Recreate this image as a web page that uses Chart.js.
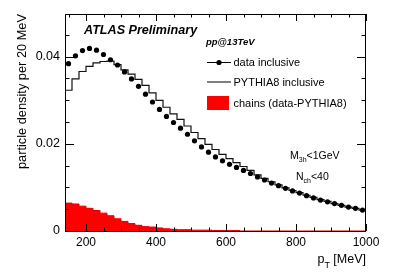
<!DOCTYPE html>
<html>
<head>
<meta charset="utf-8">
<script src="https://cdn.jsdelivr.net/npm/chart.js@4/dist/chart.umd.min.js"></script>
<style>
  html, body { margin: 0; padding: 0; background: #fff; }
  canvas { display: block; }
</style>
</head>
<body>
<canvas id="chart" width="407" height="276"></canvas>
<script>
// pT bin centres [MeV], 20 MeV bins
const ptBins = [150, 170, 190, 210, 230, 250, 270, 290, 310, 330, 350, 370, 390, 410, 430,
  450, 470, 490, 510, 530, 550, 570, 590, 610, 630, 650, 670, 690, 710, 730, 750, 770, 790,
  810, 830, 850, 870, 890, 910, 930, 950, 970, 990];

const dataIncl = [0.0384, 0.0402, 0.0414, 0.0419, 0.0415, 0.0405, 0.0393, 0.0381, 0.0365,
  0.0349, 0.0332, 0.0314, 0.0296, 0.0279, 0.0263, 0.0249, 0.0236, 0.0222, 0.0207, 0.0193,
  0.0181, 0.0170, 0.0161, 0.0153, 0.0146, 0.0139, 0.0132, 0.0124, 0.0117, 0.0110, 0.0104,
  0.0098, 0.0092, 0.0087, 0.0081, 0.0076, 0.0071, 0.0067, 0.0063, 0.0059, 0.0055, 0.0052, 0.0048];

const pythiaIncl = [0.0323, 0.0349, 0.0366, 0.0378, 0.0386, 0.0389, 0.0390, 0.0382, 0.0370,
  0.0360, 0.0348, 0.0334, 0.0317, 0.0300, 0.0284, 0.0269, 0.0256, 0.0241, 0.0226, 0.0212,
  0.0199, 0.0187, 0.0176, 0.0166, 0.0157, 0.0148, 0.0139, 0.0129, 0.0121, 0.0113, 0.0106,
  0.0099, 0.0093, 0.0088, 0.0082, 0.0077, 0.0072, 0.0068, 0.0063, 0.0059, 0.0055, 0.0052, 0.0048];

const chains = [0.0064, 0.0062, 0.0057, 0.0052, 0.0047, 0.0041, 0.0035, 0.0028, 0.0022,
  0.0017, 0.0013, 0.0010, 0.0009, 0.0007, 0.0005, 0.0004, 0.0003, 0.0003, 0.0002, 0.0002,
  0.0002, 0.0001, 0.0001, 0.0001, 0.0001, 0, 0, 0, 0, 0, 0, 0, 0, 0, 0, 0, 0, 0, 0, 0, 0, 0, 0];

const xTicks = [200, 400, 600, 800, 1000];
const yTicks = [0, 0.02, 0.04];
const xMinor = [150, 200, 250, 300, 350, 400, 450, 500, 550, 600, 650, 700, 750, 800, 850, 900, 950, 1000];
const yMinor = [0, 0.005, 0.01, 0.015, 0.02, 0.025, 0.03, 0.035, 0.04, 0.045];

const FONT = "'Liberation Sans', Arial, Helvetica, sans-serif";
const binHalf = 10;

// histogram: one point per low bin edge + closing point at last high edge
function toSteps(values) {
  const pts = values.map((v, i) => ({ x: ptBins[i] - binHalf, y: v }));
  pts.push({ x: ptBins[ptBins.length - 1] + binHalf, y: values[values.length - 1] });
  return pts;
}

// ROOT-like frame, inward ticks, titles, legend and labels
const rootDecor = {
  id: 'rootDecor',
  afterDatasetsDraw(chart) {
    const { ctx, chartArea: a, scales: { x, y } } = chart;
    ctx.save();
    ctx.strokeStyle = '#000';
    ctx.lineWidth = 1;
    ctx.strokeRect(a.left + 0.5, a.top + 0.5, a.right - a.left - 1, a.bottom - a.top);

    ctx.beginPath();
    xMinor.forEach(v => {
      const px = Math.round(x.getPixelForValue(v)) + 0.5;
      const len = v % 200 === 0 ? 7 : 3.5;
      ctx.moveTo(px, a.bottom); ctx.lineTo(px, a.bottom - len);
      ctx.moveTo(px, a.top); ctx.lineTo(px, a.top + len);
    });
    yMinor.forEach(v => {
      const py = Math.round(y.getPixelForValue(v)) + 0.5;
      const len = Math.abs(v / 0.02 - Math.round(v / 0.02)) < 1e-6 ? 9 : 4.5;
      ctx.moveTo(a.left, py); ctx.lineTo(a.left + len, py);
      ctx.moveTo(a.right, py); ctx.lineTo(a.right - len, py);
    });
    ctx.stroke();

    ctx.fillStyle = '#000';
    // y title
    ctx.save();
    ctx.translate(26, a.top);
    ctx.rotate(-Math.PI / 2);
    ctx.font = '12.8px ' + FONT;
    ctx.textAlign = 'right';
    ctx.textBaseline = 'alphabetic';
    ctx.fillText('particle density per 20 MeV', 0, 0);
    ctx.restore();

    // x title p_T [MeV], right aligned to frame
    ctx.textAlign = 'left';
    ctx.textBaseline = 'alphabetic';
    ctx.font = '12.5px ' + FONT;
    const rest = ' [MeV]';
    const wRest = ctx.measureText(rest).width;
    const wP = ctx.measureText('p').width;
    ctx.font = '9px ' + FONT;
    const wT = ctx.measureText('T').width;
    let tx = a.right - wRest - wT - wP;
    ctx.font = '12.5px ' + FONT;
    ctx.fillText('p', tx, 262.5);
    ctx.fillText(rest, tx + wP + wT, 262.5);
    ctx.font = '9px ' + FONT;
    ctx.fillText('T', tx + wP, 268);

    // ATLAS label
    ctx.font = 'italic bold 12.6px ' + FONT;
    ctx.fillText('ATLAS Preliminary', 84, 34);
    ctx.font = 'italic bold 9.5px ' + FONT;
    ctx.fillText('pp@13TeV', 206, 45);

    // legend
    ctx.lineWidth = 1.2;
    ctx.beginPath();
    ctx.moveTo(207, 62.5); ctx.lineTo(231, 62.5);
    ctx.moveTo(207, 82); ctx.lineTo(231, 82);
    ctx.stroke();
    ctx.beginPath();
    ctx.arc(219, 62.5, 2.6, 0, Math.PI * 2);
    ctx.fill();
    ctx.fillStyle = '#ff0000';
    ctx.fillRect(207, 96, 22, 14);
    ctx.fillStyle = '#000';
    ctx.font = '11px ' + FONT;
    ctx.textBaseline = 'middle';
    ctx.fillText('data inclusive', 233.5, 63);
    ctx.fillText('PYTHIA8 inclusive', 233.5, 82.5);
    ctx.fillText('chains (data-PYTHIA8)', 233.5, 103.5);

    // selection labels with subscripts
    ctx.textBaseline = 'alphabetic';
    function subLabel(x0, yb, main, sub, tail) {
      ctx.font = '10.5px ' + FONT;
      ctx.fillText(main, x0, yb);
      let cx = x0 + ctx.measureText(main).width;
      ctx.font = '7px ' + FONT;
      ctx.fillText(sub, cx, yb + 3);
      cx += ctx.measureText(sub).width;
      ctx.font = '10.5px ' + FONT;
      ctx.fillText(tail, cx, yb);
    }
    subLabel(290, 159, 'M', '3h', '<1GeV');
    subLabel(296, 180, 'N', 'ch', '<40');
    ctx.restore();
  }
};

const ctx = document.getElementById('chart');
new Chart(ctx, {
  type: 'line',
  data: {
    datasets: [
      {
        label: 'data inclusive',
        data: ptBins.map((p, i) => ({ x: p, y: dataIncl[i] })),
        showLine: false,
        pointRadius: 2.6,
        pointBackgroundColor: '#000',
        pointBorderWidth: 0,
        clip: false,
        order: 0
      },
      {
        label: 'PYTHIA8 inclusive',
        data: toSteps(pythiaIncl),
        stepped: true,
        borderColor: '#111',
        borderWidth: 1.2,
        pointRadius: 0,
        fill: false,
        order: 1
      },
      {
        label: 'chains (data-PYTHIA8)',
        data: toSteps(chains),
        stepped: true,
        borderColor: '#e00000',
        backgroundColor: '#ff0000',
        borderWidth: 1,
        pointRadius: 0,
        fill: 'origin',
        order: 2
      }
    ]
  },
  options: {
    responsive: false,
    animation: false,
    layout: { padding: { top: 14, right: 41, left: 0, bottom: 0 } },
    plugins: { legend: { display: false }, tooltip: { enabled: false } },
    scales: {
      x: {
        type: 'linear',
        min: 140,
        max: 1000,
        grid: { display: false, drawTicks: false },
        border: { display: false },
        afterBuildTicks: s => { s.ticks = xTicks.map(v => ({ value: v })); },
        afterFit: s => { s.height = 45; },
        ticks: {
          padding: 4,
          maxRotation: 0,
          color: '#000',
          font: { family: FONT, size: 12 },
          callback: v => String(v)
        }
      },
      y: {
        min: 0,
        max: 0.0498,
        grid: { display: false, drawTicks: false },
        border: { display: false },
        afterBuildTicks: s => { s.ticks = yTicks.map(v => ({ value: v })); },
        afterFit: s => { s.width = 65; },
        ticks: {
          padding: 5,
          color: '#000',
          font: { family: FONT, size: 12.5 },
          callback: v => (v === 0 ? '0' : String(v))
        }
      }
    }
  },
  plugins: [rootDecor]
});
</script>
</body>
</html>
